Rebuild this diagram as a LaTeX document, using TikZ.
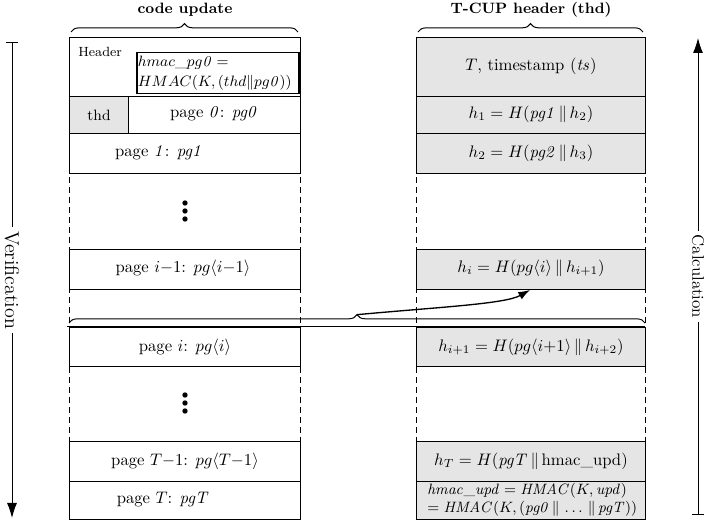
\documentclass[tikz,border=0pt]{standalone}
\usetikzlibrary{decorations.pathreplacing,arrows.meta}
\definecolor{cellgray}{RGB}{229,229,229}
\newcommand{\cat}{\mathbin{\|}}
\newcommand{\tcat}{\,\|\,}
\begin{document}
\begin{tikzpicture}[x=0.6pt,y=-0.6pt,
  rowL/.style={draw, line width=0.6pt, anchor=north west, minimum width=138.6pt, inner sep=0pt},
  rowR/.style={draw, line width=0.6pt, fill=cellgray, anchor=north west, minimum width=137.4pt, inner sep=0pt},
  colline/.style={dash pattern=on 3.6pt off 2.4pt, line width=0.6pt},
  txt/.style={inner sep=0pt, font=\normalsize},
  brc/.style={decorate, decoration={brace, amplitude=5pt}, line width=0.6pt},
  dotc/.style={fill=black},
  side/.style={line width=0.6pt},
  sidelbl/.style={fill=white, rotate=-90, inner sep=2.5pt},
  ttl/.style={font=\small\bfseries, inner sep=0pt}
]
\useasboundingbox (0,0) rectangle (712,522);

% titles and top braces
\node[ttl] (tl) at (185,10) {code update};
\node[ttl] (tr) at (531,10) {T-CUP header (thd)};
\draw[brc] (71,32) -- (298,32);
\draw[brc] (418,32) -- (643,32);

% dashed column sides
\draw[colline] (69,37) -- (69,519);
\draw[colline] (300,37) -- (300,519);
\draw[colline] (416,37) -- (416,519);
\draw[colline] (645,37) -- (645,519);

% left column rows
\node[rowL, minimum height=35.4pt] (hdr) at (69,37) {};
\node[rowL, minimum height=22.2pt] (p0) at (69,96) {};
\node[rowL, minimum height=24pt] (p1) at (69,133) {};
\node[rowL, minimum height=24pt] (pim) at (69,249) {};
\node[rowL, minimum height=23.4pt] (pi) at (69,327) {};
\node[rowL, minimum height=24pt] (pTm) at (69,441) {};
\node[rowL, minimum height=22.8pt] (pT) at (69,481) {};
\node[draw, line width=0.6pt, fill=cellgray, anchor=north west, minimum width=35.4pt, minimum height=22.2pt, inner sep=0pt, font=\small] (thd) at (69,96) {thd};

% right column rows
\node[rowR, minimum height=35.4pt] (ts) at (416,37) {};
\node[rowR, minimum height=22.2pt] (h1) at (416,96) {};
\node[rowR, minimum height=24pt] (h2) at (416,133) {};
\node[rowR, minimum height=24pt] (hi) at (416,249) {};
\node[rowR, minimum height=23.4pt] (hip) at (416,327) {};
\node[rowR, minimum height=24pt] (hT) at (416,441) {};
\node[rowR, minimum height=22.8pt] (hu) at (416,481) {};

% header content
\node[inner sep=0pt, font=\footnotesize, anchor=north west] (hdrt) at (78,47) {Header};
\node[draw, line width=0.9pt, anchor=north west, minimum width=97.2pt, minimum height=24.6pt, inner sep=0.6pt, text width=96pt, align=left, font=\fontsize{9.5pt}{11.5pt}\selectfont] (hm) at (136,52)
  {$hmac\_pg\mathit{0} =$\\$HMAC(K,(thd\|pg\mathit{0}))$};

% left texts
\node[txt] (t0) at (214,114) {page $\mathit{0}$: $\mathit{pg0}$};
\node[txt] (t1) at (159,153) {page $\mathit{1}$: $\mathit{pg1}$};
\node[txt] (tim) at (183,268) {page $i{-}1$: $pg\langle i{-}1\rangle$};
\node[txt] (ti) at (185,347) {page $i$: $pg\langle i\rangle$};
\node[txt] (tTm) at (185,461) {page $T{-}1$: $pg\langle T{-}1\rangle$};
\node[txt] (tT) at (163,500) {page $T$: $\mathit{pgT}$};

% ellipsis dots
\fill[dotc] (185,203) circle (1.6pt) (185,211) circle (1.6pt) (185,219) circle (1.6pt);
\fill[dotc] (185,395) circle (1.6pt) (185,403) circle (1.6pt) (185,411) circle (1.6pt);

% right texts
\node[txt] (tts) at (531,66) {$T$, timestamp ($\mathit{ts}$)};
\node[txt] (th1) at (531,114) {$h_1 = H(\mathit{pg1}\tcat h_2)$};
\node[txt] (th2) at (531,153) {$h_2 = H(\mathit{pg2}\tcat h_3)$};
\node[txt] (thi) at (531,268) {$h_i = H(pg\langle i\rangle\tcat h_{i+1})$};
\node[txt] (thip) at (531,347) {$h_{i+1} = H(pg\langle i{+}1\rangle\tcat h_{i+2})$};
\node[txt] (thT) at (531,461) {$h_T = H(\mathit{pgT}\tcat \mbox{hmac\_upd})$};
\node[txt, anchor=west, align=left, font=\small] (thu) at (427,500)
  {$\mathit{hmac\_upd} = \mathit{HMAC}(K,\mathit{upd})$\\$= \mathit{HMAC}(K,(\mathit{pg0}\tcat\ldots\tcat\mathit{pgT}))$};

% middle separator line and brace
\draw[line width=0.6pt] (67,327) -- (645,327);
\draw[brc] (69,323) -- coordinate[yshift=5pt] (btip) (645,323);
\draw[line width=0.8pt, -{Latex[length=7pt,width=5pt]}] (btip) .. controls (440,307) and (505,304) .. (hi.south -| 530,0);

% side arrows
\draw[side, {Bar[width=7pt]}-{Latex[length=9pt,width=6pt]}] (12,42) -- node[sidelbl, font=\large] (ver) {Verification} (12,518);
\draw[side, {Latex[length=9pt,width=6pt]}-{Bar[width=7pt]}] (698,38) -- node[sidelbl, font=\normalsize] (cal) {Calculation} (698,515);
\end{tikzpicture}
\end{document}
